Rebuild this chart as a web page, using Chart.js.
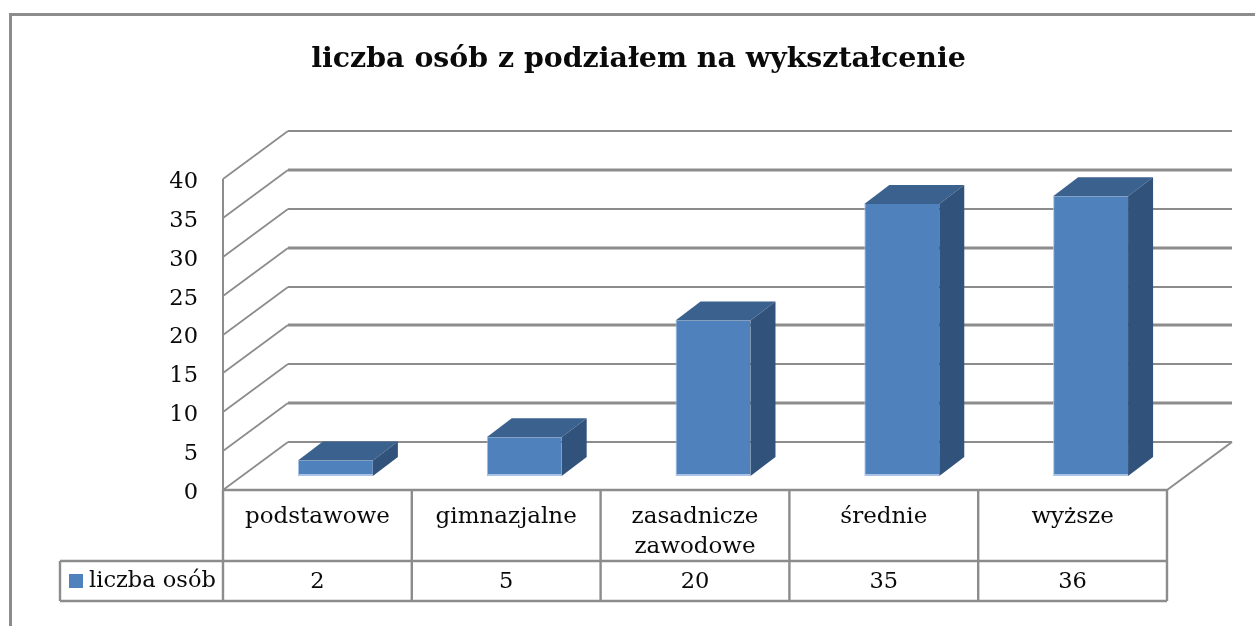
<!DOCTYPE html>
<html lang="pl"><head><meta charset="utf-8">
<style>html,body{margin:0;padding:0;background:#fff;overflow:hidden}canvas{display:block}</style>
<script src="https://cdn.jsdelivr.net/npm/chart.js@4"></script>
</head><body><canvas id="c" width="1255" height="626"></canvas>
<script>
const categories = ['podstawowe','gimnazjalne',['zasadnicze','zawodowe'],'średnie','wyższe'];
const values = [2,5,20,35,36];
const seriesName = 'liczba osób';
const chartTitle = 'liczba osób z podziałem na wykształcenie';
const FONT = '"DejaVu Serif"';
const LINE = '#8c8c8c', TXT = '#0a0a0a';
const WALL = {dx:65, dy:-48}, BAR = {dx:25, dy:-19}, SHIFT = {x:18, y:-14};

const threeD = {
  id:'threeD',
  beforeDraw(ch){
    const c=ch.ctx, y=ch.scales.y; c.save();
    c.fillStyle='#fff'; c.fillRect(0,0,ch.width,ch.height);
    c.strokeStyle=LINE; c.lineWidth=3;
    c.beginPath(); c.moveTo(10.5,626); c.lineTo(10.5,14.5); c.lineTo(1255,14.5); c.stroke();
    c.restore();
    if(!y._nudged){
      y._nudged=true;
      const orig=y.drawLabels;
      y.drawLabels=function(area){ c.save(); c.translate(0,3); orig.call(this,area); c.restore(); };
    }
  },
  beforeDatasetsDraw(ch){
    const c=ch.ctx, y=ch.scales.y, a=ch.chartArea;
    c.save(); c.strokeStyle=LINE;
    y.ticks.forEach((t,i)=>{
      const p=Math.round(y.getPixelForValue(t.value));
      c.lineWidth=1.7;
      c.beginPath(); c.moveTo(a.left,p); c.lineTo(a.left+WALL.dx,p+WALL.dy); c.stroke();
      c.lineWidth=i%2?3:2;
      c.beginPath(); c.moveTo(a.left+WALL.dx,p+WALL.dy); c.lineTo(a.right+WALL.dx,p+WALL.dy); c.stroke();
    });
    const b=y.getPixelForValue(0);
    c.lineWidth=2;
    c.beginPath(); c.moveTo(a.right,b); c.lineTo(a.right+WALL.dx,b+WALL.dy); c.stroke();
    c.beginPath(); c.moveTo(a.left,a.top); c.lineTo(a.left,b); c.stroke();

    // table
    const x=ch.scales.x, n=categories.length, cw=(a.right-a.left)/n;
    const rowTop=561, rowBot=601, tabLeft=60;
    c.lineWidth=2.4;
    c.beginPath();
    c.moveTo(a.left,b); c.lineTo(a.right,b);
    for(let i=0;i<=n;i++){ const lx=a.left+i*cw; c.moveTo(lx,b); c.lineTo(lx,rowBot); }
    c.moveTo(tabLeft,rowTop); c.lineTo(a.right,rowTop);
    c.moveTo(tabLeft,rowBot); c.lineTo(a.right,rowBot);
    c.moveTo(tabLeft,rowTop); c.lineTo(tabLeft,rowBot);
    c.stroke();
    c.fillStyle=TXT; c.font='22.5px '+FONT; c.textAlign='center'; c.textBaseline='middle';
    values.forEach((v,i)=>c.fillText(String(v),x.getPixelForTick(i),582));
    c.textAlign='left'; c.fillText(seriesName,89,581);
    c.fillStyle='#4F81BD'; c.fillRect(69,574,14,14);
    c.restore();
    c.save(); c.translate(SHIFT.x,SHIFT.y);
  },
  afterDatasetsDraw(ch){
    const c=ch.ctx;
    ch.getDatasetMeta(0).data.forEach(e=>{
      const l=e.x-e.width/2, r=e.x+e.width/2, t=e.y, b=e.base;
      c.fillStyle='#3B618F';
      c.beginPath(); c.moveTo(l,t); c.lineTo(l+BAR.dx,t+BAR.dy); c.lineTo(r+BAR.dx,t+BAR.dy); c.lineTo(r,t); c.closePath(); c.fill();
      c.fillStyle='#31527A';
      c.beginPath(); c.moveTo(r,t); c.lineTo(r+BAR.dx,t+BAR.dy); c.lineTo(r+BAR.dx,b+BAR.dy); c.lineTo(r,b); c.closePath(); c.fill();
    });
    c.restore();
  }
};

new Chart(document.getElementById('c'),{
  type:'bar',
  data:{labels:categories,datasets:[{label:seriesName,data:values,backgroundColor:'#4F81BD',
    borderColor:'#A9C3E6',borderWidth:{bottom:2,left:1,top:0,right:0},borderSkipped:false,
    categoryPercentage:1,barPercentage:0.397,clip:false}]},
  plugins:[threeD],
  options:{
    responsive:false,animation:false,
    layout:{padding:{left:110,right:88,top:43,bottom:66}},
    plugins:{
      legend:{display:false},tooltip:{enabled:false},
      title:{display:true,text:chartTitle,color:TXT,
        font:{family:FONT,size:28.4,weight:'bold',lineHeight:1.2},padding:{top:0,bottom:102}}
    },
    scales:{
      y:{min:0,max:40,ticks:{stepSize:5,padding:25,color:TXT,font:{family:FONT,size:22.5}},
        grid:{display:false,drawTicks:false},border:{display:false},
        afterFit(s){s.width=113;}},
      x:{ticks:{maxRotation:0,autoSkip:false,padding:12,color:TXT,font:{family:FONT,size:23,lineHeight:1.3}},
        grid:{display:false,drawTicks:false},border:{display:false},
        afterFit(s){s.height=70;}}
    }
  }
});
</script></body></html>
